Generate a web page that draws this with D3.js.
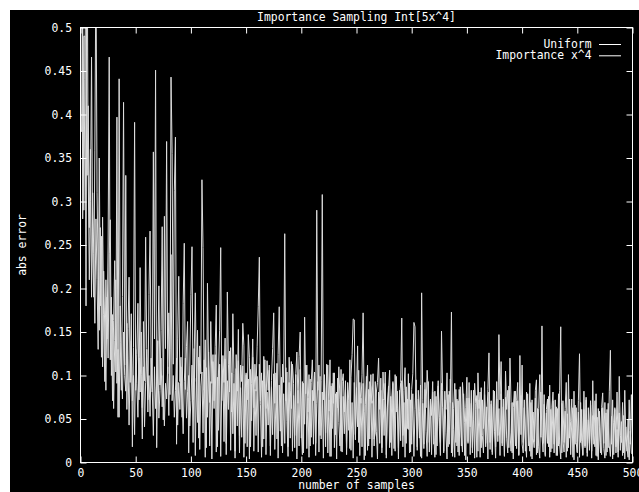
<!DOCTYPE html>
<html>
<head>
<meta charset="utf-8">
<script src="https://d3js.org/d3.v7.min.js"></script>
<style>
  body { margin: 0; background: #fff; }
  svg text { font-family: "DejaVu Sans Mono", monospace; font-size: 11.4px; fill: #fff; }
</style>
</head>
<body>
<div id="chart"></div>
<script>
//Absolute error per number of samples (n = 1..500)
var uniformErr = [
  .72,.28,.49,.49,.18,.61,.33,.21,.30,.466,
  .25,.19,.359,.58,.31,.22,.152,.27,.121,.282,
  .17,.093,.21,.142,.25,.466,.118,.19,.071,.163,
  .232,.104,.397,.052,.441,.138,.083,.191,.414,.112,
  .33,.061,.154,.213,.092,.171,.018,.132,.391,.083,
  .124,.183,.072,.224,.101,.027,.162,.094,.259,.131,
  .058,.193,.266,.113,.081,.357,.142,.451,.017,.124,
  .203,.089,.152,.271,.049,.283,.131,.369,.102,.172,
  .078,.443,.355,.113,.313,.374,.021,.142,.214,.093,
  .121,.052,.183,.252,.084,.133,.162,.011,.112,.193,
  .248,.072,.121,.195,.093,.152,.028,.134,.102,.325,
  .247,.083,.141,.017,.206,.113,.069,.162,.091,.124,
  .062,.133,.181,.018,.104,.152,.247,.071,.123,.092,
  .143,.022,.196,.113,.081,.132,.058,.171,.102,.013,
  .124,.082,.153,.031,.112,.093,.16,.134,.022,.103,
  .072,.147,.121,.018,.091,.142,.063,.113,.082,.133,
  .179,.236,.071,.103,.018,.122,.091,.062,.117,.083,
  .112,.019,.094,.131,.172,.068,.103,.027,.124,.179,
  .081,.019,.113,.092,.263,.071,.104,.018,.121,.083,
  .062,.113,.091,.017,.102,.127,.068,.122,.150,.028,
  .093,.011,.167,.079,.112,.058,.101,.019,.092,.118,
  .071,.103,.022,.29,.083,.112,.031,.094,.308,.072,
  .101,.018,.083,.112,.059,.118,.007,.091,.068,.103,
  .032,.081,.063,.11,.072,.013,.093,.102,.058,.084,
  .017,.092,.071,.016,.098,.124,.165,.164,.032,.081,
  .134,.023,.092,.068,.101,.172,.059,.008,.083,.112,
  .019,.093,.087,.068,.102,.027,.034,.081,.092,.12,
  .061,.083,.017,.104,.072,.091,.009,.063,.082,.106,
  .023,.074,.093,.016,.101,.058,.082,.017,.071,.092,
  .166,.031,.083,.109,.022,.073,.038,.091,.012,.084,
  .102,.161,.156,.071,.018,.083,.059,.007,.195,.072,
  .021,.092,.063,.106,.081,.012,.073,.054,.093,.021,
  .082,.009,.071,.094,.052,.023,.151,.083,.011,.072,
  .061,.103,.018,.082,.069,.173,.007,.062,.091,.023,
  .073,.012,.084,.061,.019,.092,.071,.008,.063,.098,
  .022,.074,.041,.083,.011,.049,.091,.068,.006,.103,
  .062,.081,.017,.072,.039,.093,.018,.051,.084,.126,
  .023,.071,.012,.064,.082,.018,.093,.031,.147,.072,
  .116,.022,.073,.008,.105,.061,.083,.017,.12,.069,
  .011,.063,.082,.019,.071,.092,.008,.123,.032,.112,
  .023,.072,.013,.081,.061,.019,.091,.007,.072,.028,
  .017,.083,.095,.011,.062,.101,.029,.157,.022,.078,
  .009,.061,.073,.018,.089,.012,.063,.081,.021,.072,
  .008,.062,.019,.083,.156,.011,.071,.023,.062,.092,
  .013,.101,.028,.047,.073,.006,.082,.021,.063,.012,
  .071,.125,.023,.061,.008,.082,.019,.072,.011,.063,
  .022,.071,.013,.094,.031,.018,.079,.007,.062,.041,
  .011,.063,.08,.022,.069,.008,.061,.017,.082,.129,
  .021,.072,.009,.063,.018,.081,.012,.099,.031,.023,
  .069,.011,.083,.028,.017,.006,.072,.021,.078,.013
];

var importanceErr = [
  .38,.52,.29,.44,.61,.33,.41,.27,.36,.19,
  .31,.24,.16,.28,.21,.13,.35,.18,.26,.11,
  .22,.15,.083,.19,.12,.24,.279,.10,.17,.062,
  .14,.21,.091,.13,.052,.18,.11,.073,.15,.10,
  .082,.16,.12,.043,.11,.14,.071,.10,.032,.13,
  .091,.052,.12,.081,.15,.063,.11,.041,.092,.13,
  .072,.10,.053,.12,.084,.031,.11,.062,.093,.14,
  .051,.083,.12,.064,.10,.042,.091,.073,.11,.054,
  .13,.239,.071,.10,.052,.083,.12,.043,.092,.061,
  .11,.072,.033,.093,.12,.051,.082,.10,.042,.071,
  .112,.023,.131,.008,.097,.046,.121,.015,.088,.104,
  .034,.118,.006,.109,.052,.127,.019,.093,.004,.116,
  .071,.124,.012,.098,.037,.113,.007,.089,.106,.024,
  .119,.009,.094,.061,.128,.014,.103,.033,.091,.005,
  .108,.042,.117,.011,.086,.029,.111,.006,.079,.101,
  .018,.096,.004,.107,.048,.121,.013,.084,.031,.099,
  .012,.113,.067,.006,.094,.027,.118,.009,.081,.043,
  .106,.008,.087,.032,.102,.015,.073,.114,.005,.089,
  .036,.098,.011,.079,.022,.109,.047,.007,.092,.028,
  .116,.013,.077,.031,.101,.004,.083,.019,.107,.038,
  .009,.091,.044,.112,.016,.074,.006,.096,.029,.083,
  .021,.104,.008,.068,.093,.012,.099,.027,.081,.005,
  .094,.034,.113,.011,.072,.007,.088,.039,.103,.017,
  .079,.004,.097,.046,.019,.107,.012,.076,.033,.094,
  .009,.083,.037,.118,.014,.069,.005,.092,.026,.086,
  .041,.106,.008,.074,.018,.091,.003,.067,.099,.014,
  .084,.027,.101,.006,.071,.019,.093,.036,.004,.081,
  .022,.097,.011,.073,.031,.104,.005,.066,.088,.017,
  .076,.008,.091,.034,.013,.099,.062,.004,.083,.025,
  .094,.018,.069,.006,.087,.039,.102,.011,.072,.021,
  .079,.007,.061,.095,.014,.073,.028,.089,.005,.068,
  .016,.084,.036,.007,.093,.023,.071,.009,.081,.032,
  .006,.076,.019,.088,.041,.008,.091,.063,.013,.082,
  .034,.004,.078,.021,.096,.011,.069,.038,.006,.084,
  .019,.071,.008,.087,.029,.012,.079,.046,.003,.074,
  .024,.092,.009,.068,.017,.083,.005,.061,.077,.013,
  .072,.006,.086,.031,.011,.078,.022,.064,.004,.081,
  .015,.067,.009,.083,.036,.005,.073,.024,.062,.008,
  .079,.019,.064,.007,.075,.028,.011,.088,.034,.013,
  .069,.004,.058,.082,.016,.071,.009,.053,.077,.021,
  .011,.063,.027,.006,.079,.034,.013,.069,.004,.058,
  .024,.074,.009,.062,.018,.005,.081,.031,.012,.067,
  .007,.057,.022,.076,.006,.061,.016,.071,.011,.049,
  .064,.008,.079,.021,.004,.068,.026,.012,.059,.006,
  .056,.017,.073,.009,.048,.063,.003,.066,.023,.011,
  .058,.006,.069,.024,.009,.061,.017,.075,.007,.049,
  .014,.066,.005,.054,.021,.071,.008,.052,.003,.059,
  .023,.009,.063,.016,.005,.057,.012,.068,.019,.007,
  .053,.004,.046,.061,.011,.038,.006,.057,.014,.047,
  .008,.054,.004,.041,.013,.049,.003,.036,.011,.009
];

var seriesNames = ["Uniform", "Importance x^4"];
var xTicks = [0, 50, 100, 150, 200, 250, 300, 350, 400, 450, 500];
var yTicks = [0, 0.05, 0.1, 0.15, 0.2, 0.25, 0.3, 0.35, 0.4, 0.45, 0.5];

//SVG size and margins (plot frame sits inside the black panel)
var svgWidth = 639;
var svgHeight = 492;

var margin = {
  top: 27.5,
  right: 6.5,
  bottom: 29.5,
  left: 80.5
};

var width = svgWidth - margin.left - margin.right;
var height = svgHeight - margin.top - margin.bottom;

var svg = d3.select("#chart")
  .append("svg")
  .attr("width", svgWidth)
  .attr("height", svgHeight);

//Black panel
svg.append("rect")
  .attr("x", 10)
  .attr("y", 10)
  .attr("width", svgWidth - 10)
  .attr("height", svgHeight - 10)
  .attr("fill", "#000");

var chartGroup = svg.append("g")
  .attr("transform", `translate(${margin.left}, ${margin.top})`);

//Scales
var xScale = d3.scaleLinear().domain([0, 500]).range([0, width]);
var yScale = d3.scaleLinear().domain([0, 0.5]).range([height, 0]);

chartGroup.append("clipPath")
  .attr("id", "plotClip")
  .append("rect")
  .attr("width", width)
  .attr("height", height);

//Data lines
var line = d3.line()
  .x((d, i) => xScale(i + 1))
  .y(d => yScale(d));

[uniformErr, importanceErr].forEach(function(series) {
  chartGroup.append("path")
    .datum(series)
    .attr("clip-path", "url(#plotClip)")
    .attr("fill", "none")
    .attr("stroke", "#dcdcdc")
    .attr("stroke-width", 1)
    .attr("d", line);
});

//Axes with inward ticks on all four sides
var bottomAxis = d3.axisBottom(xScale).tickValues(xTicks).tickSize(-6).tickSizeOuter(0).tickFormat(d3.format("d"));
var topAxis = d3.axisTop(xScale).tickValues(xTicks).tickSize(-6).tickSizeOuter(0).tickFormat("");
var leftAxis = d3.axisLeft(yScale).tickValues(yTicks).tickSize(-6).tickSizeOuter(0).tickPadding(8.5).tickFormat(d => String(d));
var rightAxis = d3.axisRight(yScale).tickValues(yTicks).tickSize(-6).tickSizeOuter(0).tickFormat("");

var xAxisG = chartGroup.append("g").attr("transform", `translate(0, ${height})`).call(bottomAxis);
var topG = chartGroup.append("g").call(topAxis);
var yAxisG = chartGroup.append("g").call(leftAxis);
var rightG = chartGroup.append("g").attr("transform", `translate(${width}, 0)`).call(rightAxis);

[xAxisG, topG, yAxisG, rightG].forEach(function(g) {
  g.select(".domain").remove();
  g.selectAll("line").attr("stroke", "#fff");
  g.selectAll("text").attr("fill", "#fff").attr("font-family", null).attr("font-size", null);
});

xAxisG.selectAll("text").attr("dy", null).attr("y", 14.5);

//Frame
chartGroup.append("rect")
  .attr("width", width)
  .attr("height", height)
  .attr("fill", "none")
  .attr("stroke", "#fff");

//Title and axis labels
svg.append("text")
  .attr("x", margin.left + width / 2)
  .attr("y", 20.5)
  .attr("text-anchor", "middle")
  .text("Importance Sampling Int[5x^4]");

svg.append("text")
  .attr("x", margin.left + width / 2)
  .attr("y", 489)
  .attr("text-anchor", "middle")
  .text("number of samples");

svg.append("text")
  .attr("transform", `translate(26, ${margin.top + height / 2}) rotate(-90)`)
  .attr("text-anchor", "middle")
  .text("abs error");

//Legend
var legend = svg.append("g");

seriesNames.forEach(function(name, i) {
  legend.append("text")
    .attr("x", 591.5)
    .attr("y", 47.5 + i * 11.3)
    .attr("text-anchor", "end")
    .text(name);

  legend.append("line")
    .attr("x1", 599)
    .attr("x2", 621)
    .attr("y1", 44.5 + i * 11.3)
    .attr("y2", 44.5 + i * 11.3)
    .attr("stroke", "#fff");
});
</script>
</body>
</html>
